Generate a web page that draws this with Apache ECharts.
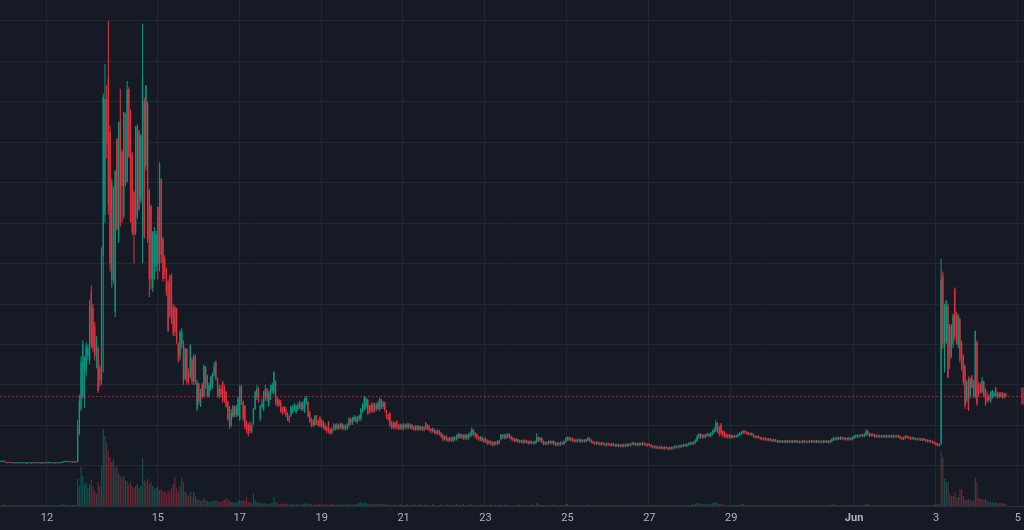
<!DOCTYPE html>
<html><head><meta charset="utf-8">
<script src="https://cdn.jsdelivr.net/npm/echarts@6/dist/echarts.min.js"></script>
<style>html,body{margin:0;padding:0;background:#161a25;}#c{width:1024px;height:530px;}</style>
</head><body><div id="c"></div>
<script>
// day labels on the time scale and the bar (hour) at which each day starts
const tickLabels = ['12','15','17','19','21','23','25','27','29','Jun','3','5'];
const tickBars = [27,92,140,188,236,284,332,380,428,500,548,596];
const barsOnScale = 600;
// hourly candles: [open, close, low, high] (price x 100)
const candles = [
[110,111,109,112],[111,112,110,113],[112,109,108,112],[109,108,107,109],[108,108,107,109],[108,109,107,109],[109,108,107,109],[108,108,107,109],[108,107,106,108],[107,108,106,108],
[108,108,107,109],[108,107,106,108],[107,108,107,109],[108,108,107,108],[108,107,106,108],[107,107,106,108],[107,108,106,108],[108,107,106,108],[107,107,106,108],[107,108,107,109],
[108,108,107,109],[108,107,106,108],[107,108,106,108],[108,107,106,108],[107,107,106,108],[107,108,107,109],[108,108,107,108],[108,107,106,108],[107,108,106,109],[108,108,107,109],
[108,107,106,108],[107,107,106,108],[107,108,106,108],[108,108,107,109],[108,107,106,108],[107,108,106,108],[108,109,107,110],[109,111,108,112],[111,110,109,112],[110,111,109,112],
[111,110,109,111],[110,110,109,111],[110,109,108,110],[109,110,108,111],[110,109,108,110],[109,190,108,212],[180,260,175,275],[240,356,235,370],[272,400,265,410],[330,363,243,370],
[335,395,320,405],[370,392,360,400],[360,495,350,510],[530,400,390,545],[490,390,380,500],[445,370,360,455],[380,410,340,420],[390,285,280,395],[340,310,295,350],[310,620,300,640],
[620,1011,330,1020],[720,1006,700,1093],[1006,900,860,1040],[1060,745,720,1199],[925,600,580,940],[560,800,540,810],[784,560,550,790],[480,828,467,830],[907,685,680,910],[660,949,650,950],
[950,702,690,1031],[875,791,700,880],[717,974,710,975],[969,796,790,972],[803,1030,800,1051],[1031,865,860,1035],[977,702,700,980],[870,677,670,875],[776,672,600,780],[680,937,670,940],
[717,939,710,945],[927,734,730,930],[759,915,750,920],[740,1060,600,1192],[1000,665,660,1010],[841,1040,830,1041],[994,660,650,1000],[779,560,517,785],[742,560,536,745],[540,677,529,680],
[600,670,560,690],[590,672,580,680],[739,600,560,740],[600,845,580,850],[808,620,600,810],[660,561,555,665],[611,580,561,620],[586,529,520,590],[554,433,430,560],[569,470,465,572],
[569,457,450,575],[492,425,420,500],[490,430,420,495],[487,408,400,490],[400,363,355,405],[370,430,360,435],[400,430,390,440],[405,307,300,410],[314,388,310,392],[388,307,300,390],
[330,307,300,340],[319,396,315,400],[363,307,300,368],[307,371,300,375],[371,307,300,375],[240,307,235,312],[302,257,250,305],[250,282,245,290],[300,270,265,305],[272,346,268,350],
[344,297,290,346],[321,272,268,325],[272,300,268,305],[289,319,285,322],[300,326,290,330],[326,345,320,356],[356,314,310,360],[314,272,268,318],[272,290,265,300],[290,275,268,300],
[306,260,255,310],[290,260,255,300],[282,247,243,285],[257,215,210,260],[245,198,190,248],[200,230,195,240],[222,247,218,250],[245,225,220,248],[225,245,220,250],[225,265,222,270],
[215,295,210,300],[295,255,250,300],[257,215,210,260],[247,195,190,250],[208,185,180,212],[203,178,172,206],[200,185,180,210],[185,200,180,205],[203,240,200,242],[240,282,238,285],
[270,290,262,300],[290,257,255,295],[215,247,210,250],[245,255,240,265],[240,282,235,285],[270,290,260,300],[290,265,258,292],[250,280,245,285],[270,290,262,300],[285,300,278,305],
[280,330,275,334],[307,257,250,310],[265,250,245,270],[262,250,245,265],[255,235,230,262],[240,230,225,245],[245,232,228,247],[240,225,220,245],[228,215,210,232],[222,210,205,225],
[225,245,220,248],[232,245,228,250],[240,250,235,255],[232,247,228,250],[240,250,235,255],[245,255,240,260],[255,240,235,258],[240,255,235,260],[235,265,230,268],[255,268,250,272],
[257,222,218,260],[232,208,205,235],[215,200,195,218],[210,200,195,215],[200,222,198,225],[222,205,200,225],[210,200,196,213],[220,198,195,222],[198,210,195,215],[208,195,190,212],
[200,190,186,205],[195,185,180,198],[207,185,180,210],[190,180,175,193],[182,190,178,195],[190,200,186,205],[200,190,186,203],[192,200,188,205],[200,193,188,203],[193,203,190,206],
[203,192,188,206],[192,198,188,202],[198,190,186,202],[192,200,188,205],[200,215,195,220],[215,205,200,218],[205,215,200,220],[212,220,208,225],[220,210,205,223],[208,218,204,222],
[215,222,210,226],[215,240,210,242],[235,250,230,255],[240,270,235,272],[245,265,240,268],[262,230,225,265],[245,232,228,250],[250,235,230,255],[252,235,230,255],[235,250,232,255],
[250,240,235,255],[240,255,238,260],[240,265,235,268],[262,245,240,265],[245,255,240,260],[255,238,232,258],[235,220,215,238],[225,215,210,228],[230,200,195,232],[205,195,190,210],
[195,205,190,210],[205,195,190,208],[210,195,190,212],[200,192,188,203],[192,200,188,204],[200,192,188,203],[192,200,188,205],[200,195,190,203],[195,202,190,206],[202,195,190,205],
[195,200,190,204],[200,193,188,203],[195,190,186,198],[190,197,186,200],[197,190,186,200],[190,196,186,200],[196,190,186,198],[190,195,186,198],[195,188,184,198],[205,192,188,208],
[192,198,188,203],[198,188,184,200],[190,185,180,193],[185,190,182,194],[190,182,178,192],[185,180,176,188],[180,186,176,190],[186,178,174,188],[180,172,168,183],[175,165,160,178],
[165,172,162,175],[172,165,160,175],[168,162,158,170],[162,168,158,172],[168,162,158,170],[162,170,158,173],[170,165,160,172],[165,172,162,176],[170,178,166,180],[178,170,166,180],
[170,175,166,178],[175,168,164,178],[168,175,164,178],[175,168,164,178],[168,176,164,180],[174,180,170,184],[175,190,172,195],[188,178,174,190],[180,172,168,183],[178,168,164,180],
[170,165,160,173],[165,170,160,173],[170,162,158,172],[165,160,156,168],[168,160,156,170],[162,155,150,165],[155,160,152,163],[160,155,150,162],[158,152,148,160],[152,158,148,160],
[158,153,150,160],[153,160,150,162],[160,155,152,163],[165,176,162,178],[170,175,166,178],[175,168,165,178],[168,174,165,180],[172,178,168,180],[178,170,166,180],[172,165,162,174],
[168,163,160,170],[165,160,158,168],[160,165,158,168],[165,160,156,166],[162,158,155,164],[158,162,155,164],[162,157,154,164],[157,162,154,165],[162,158,155,164],[160,155,152,162],
[155,160,152,162],[160,156,153,162],[158,155,152,160],[155,160,152,162],[158,170,155,180],[170,162,158,172],[162,168,158,170],[168,158,154,170],[160,154,150,162],[154,158,150,160],
[158,155,150,160],[155,160,152,162],[160,156,152,162],[156,160,152,162],[160,154,150,162],[156,152,148,158],[152,156,148,158],[156,152,148,158],[152,157,149,160],[157,153,150,159],
[153,160,150,162],[160,166,156,170],[162,170,160,172],[170,163,160,172],[163,168,160,170],[168,162,158,170],[164,160,157,166],[160,164,157,166],[164,160,157,166],[160,164,157,167],
[164,160,156,166],[160,163,157,165],[163,160,157,165],[160,164,157,166],[163,168,160,172],[168,162,158,170],[163,158,155,165],[160,156,153,162],[157,154,150,159],[154,158,151,160],
[158,155,151,160],[156,152,149,158],[152,156,149,158],[156,153,150,158],[154,151,148,156],[151,155,148,157],[155,152,149,157],[153,150,147,155],[150,154,147,156],[154,151,148,156],
[152,149,146,154],[149,152,146,154],[152,148,145,154],[148,151,145,153],[151,148,145,153],[148,152,145,154],[152,149,146,154],[149,153,146,155],[153,150,147,155],[150,154,147,156],
[153,156,150,158],[156,152,149,158],[152,155,149,157],[155,151,148,157],[151,155,148,157],[155,152,149,157],[152,156,149,158],[156,152,149,158],[153,150,147,155],[150,153,147,155],
[153,150,147,155],[151,147,144,153],[148,145,142,150],[145,148,142,150],[148,144,141,150],[146,143,140,148],[143,147,140,149],[147,143,140,149],[145,142,139,147],[142,146,139,148],
[146,143,140,148],[144,141,138,146],[141,145,138,147],[145,142,139,147],[142,146,139,148],[145,148,142,150],[148,145,142,150],[145,148,142,150],[147,150,144,152],[150,147,144,152],
[149,152,146,154],[152,149,146,154],[149,153,146,155],[152,155,149,157],[154,157,151,159],[157,154,151,159],[154,158,151,160],[157,162,154,165],[160,172,158,176],[170,178,166,180],
[178,170,166,180],[170,175,166,178],[175,170,167,178],[170,176,167,178],[175,178,172,181],[178,173,170,180],[173,180,170,183],[178,185,175,188],[183,190,180,195],[185,205,183,213],
[205,185,180,207],[195,178,172,198],[200,180,175,205],[185,175,170,188],[183,172,168,185],[178,172,168,180],[175,170,166,178],[170,175,166,178],[175,170,167,177],[170,174,167,176],
[174,171,168,176],[171,174,168,176],[173,177,170,179],[176,180,173,183],[178,183,176,186],[181,185,178,188],[185,182,178,188],[183,180,177,186],[181,177,174,183],[177,180,174,182],
[180,176,173,182],[177,172,169,179],[173,170,167,175],[170,173,167,175],[173,169,166,175],[170,167,164,172],[168,165,162,170],[165,168,162,170],[168,164,161,170],[166,163,160,168],
[163,166,160,168],[166,163,160,168],[164,161,158,166],[161,164,158,166],[164,161,158,166],[162,159,156,164],[159,161,156,163],[161,159,156,163],[159,161,156,163],[161,158,155,163],
[158,161,155,163],[161,159,156,163],[159,161,156,163],[161,158,155,163],[158,161,155,163],[161,159,156,163],[159,161,156,163],[161,158,155,163],[158,160,155,162],[160,158,155,162],
[158,161,155,163],[161,158,155,163],[158,160,155,162],[160,158,155,162],[158,161,155,163],[161,159,156,163],[159,161,156,163],[161,158,155,163],[158,161,155,163],[161,158,155,163],
[158,160,155,162],[160,158,155,162],[158,161,155,163],[161,159,156,163],[159,161,156,163],[161,158,155,163],[158,161,155,164],[160,165,157,168],[164,168,161,172],[168,165,162,170],
[165,169,162,172],[169,166,163,171],[166,170,163,172],[170,167,164,172],[168,165,162,170],[165,168,162,170],[168,165,162,170],[165,168,162,170],[168,165,162,170],[165,169,162,172],
[168,173,165,175],[172,175,169,177],[175,172,169,177],[172,175,169,177],[174,176,171,178],[176,173,170,178],[173,177,170,180],[176,185,173,190],[185,178,174,188],[180,174,170,182],
[174,178,171,180],[178,174,171,180],[176,172,169,178],[172,175,169,177],[175,172,169,177],[172,174,169,176],[174,172,169,176],[172,174,169,176],[174,171,168,176],[171,174,168,176],
[174,172,169,176],[172,174,169,176],[174,171,168,176],[171,174,168,176],[174,172,169,176],[172,174,169,176],[174,171,168,176],[172,168,165,174],[169,166,163,171],[166,169,163,171],
[168,173,165,175],[173,170,167,175],[171,168,165,173],[169,167,164,171],[167,169,164,171],[169,166,163,171],[167,165,162,169],[165,167,162,169],[167,165,162,169],[166,164,161,168],
[164,166,161,168],[166,163,160,168],[164,162,159,166],[163,160,157,165],[160,162,157,164],[162,159,156,164],[160,157,154,162],[158,155,152,160],[156,152,149,158],[153,150,147,155],
[150,153,147,155],[155,560,150,611],[569,400,388,580],[339,494,330,500],[405,507,400,510],[494,319,315,500],[445,363,339,450],[371,445,365,450],[400,470,390,475],[536,420,410,540],
[474,405,400,480],[396,470,390,475],[462,363,355,465],[405,339,335,410],[371,307,300,375],[346,247,240,350],[260,307,255,310],[314,240,235,320],[272,314,265,318],[321,294,290,324],
[310,272,268,312],[270,433,265,433],[405,252,248,410],[300,275,270,307],[300,282,278,305],[282,310,278,319],[307,272,268,310],[289,252,248,292],[270,260,255,284],[272,262,258,276],
[260,282,255,284],[270,285,265,288],[272,280,268,284],[292,272,268,295],[280,270,266,283],[270,278,266,282],[278,272,268,282],[280,270,265,282],[270,276,266,280],[277,272,268,280]
];
// hourly volume (thousands)
const volumes = [
1,1,2,1,1,1,1,1,1,1,
1,1,1,1,1,1,1,1,1,1,
1,1,1,1,1,1,1,1,1,1,
1,1,1,1,1,1,2,2,1,1,
1,1,1,1,1,27,20,39,30,22,
24,18,22,26,20,15,12,24,20,40,
77,70,63,55,49,44,47,38,40,33,
30,28,30,26,25,22,24,20,18,20,
22,18,20,48,26,24,27,22,24,20,
17,18,19,16,17,14,15,12,16,14,
18,22,29,18,14,20,28,24,14,12,
10,14,9,14,10,7,6,5,6,8,
6,5,4,4,5,5,6,5,4,4,
5,6,8,6,5,4,4,3,4,5,
6,5,6,5,9,4,4,3,13,6,
4,3,3,3,2,3,2,2,3,3,
9,4,3,2,2,3,2,2,2,2,
2,2,1,2,2,1,2,2,2,3,
2,2,2,1,2,1,2,2,1,2,
1,2,1,2,2,1,1,2,1,2,
1,2,1,2,2,2,1,2,2,2,
3,4,3,4,3,2,2,2,2,2,
2,2,2,2,2,2,1,2,1,1,
1,2,1,1,2,1,1,1,2,1,
1,1,2,1,1,1,2,1,1,2,
1,1,1,2,1,1,1,1,2,1,
1,1,2,1,1,1,1,2,1,1,
1,2,1,1,1,2,2,1,1,1,
1,1,2,1,1,1,1,2,1,1,
1,1,1,2,1,1,2,1,1,1,
1,1,1,1,2,1,1,1,1,1,
1,2,1,1,3,2,1,1,1,1,
1,1,1,2,1,1,1,1,1,1,
1,2,2,1,1,1,1,1,1,1,
1,1,1,1,2,1,1,1,1,1,
1,1,1,1,1,1,1,1,1,1,
1,1,1,1,1,1,1,1,1,1,
1,1,1,1,1,1,1,1,1,1,
1,1,1,1,1,1,1,1,1,1,
1,1,1,1,1,1,1,1,1,1,
1,1,1,1,1,2,1,2,3,3,
2,2,2,2,2,2,2,3,3,4,
3,2,2,2,1,1,1,1,1,1,
1,1,1,1,2,2,1,1,1,1,
1,1,1,1,1,1,1,1,1,1,
1,1,1,1,1,1,1,1,1,1,
1,1,1,1,1,1,1,1,1,1,
1,1,1,1,1,1,1,1,1,1,
1,1,1,1,1,1,1,2,2,1,
1,1,1,1,1,1,1,1,1,1,
1,1,1,1,1,1,1,2,2,1,
1,1,1,1,1,1,1,1,1,1,
1,1,1,1,1,1,1,1,1,1,
1,1,1,1,1,1,1,1,1,1,
1,1,1,1,1,1,1,1,2,2,
2,55,49,27,24,24,12,10,10,14,
9,9,17,17,10,7,6,7,5,6,
5,28,24,8,7,7,6,7,5,4,
4,4,3,4,3,3,3,3,2,2
];

const UP = '#089981', DOWN = '#e0333f';
const VOL_UP = 'rgba(8,153,129,0.45)', VOL_DOWN = 'rgba(242,54,69,0.4)';
const labelAt = new Map(tickBars.map((b, k) => [b, tickLabels[k]]));
const cats = Array.from({length: barsOnScale}, (_, i) => String(i));
const lastClose = candles[candles.length - 1][1];
const isUp = (c) => c[1] >= c[0];
// [barIndex, open, close, low, high]
const candleRows = candles.map((c, i) => [i, c[0], c[1], c[2], c[3]]);
const volData = volumes.map((v, i) => ({
  value: v,
  itemStyle: {color: isUp(candles[i]) ? VOL_UP : VOL_DOWN}
}));

function renderCandle(params, api) {
  const i = api.value(0);
  const o = api.value(1), c = api.value(2), lo = api.value(3), hi = api.value(4);
  const pHi = api.coord([i, hi]);
  const pLo = api.coord([i, lo]);
  const pO = api.coord([i, o]);
  const pC = api.coord([i, c]);
  const col = c >= o ? UP : DOWN;
  const wickW = 1.0, bodyW = 1.3;
  const wickH = Math.max(1, pLo[1] - pHi[1]);
  const bodyTop = Math.min(pO[1], pC[1]);
  const bodyH = Math.max(1, Math.abs(pO[1] - pC[1]));
  return {
    type: 'group',
    children: [
      {type: 'rect', shape: {x: pHi[0] - wickW / 2, y: pHi[1], width: wickW, height: wickH}, style: {fill: col}},
      {type: 'rect', shape: {x: pHi[0] - bodyW / 2, y: bodyTop, width: bodyW, height: bodyH}, style: {fill: col}}
    ]
  };
}

const chart = echarts.init(document.getElementById('c'), null, {renderer: 'canvas'});
chart.setOption({
  backgroundColor: '#161a25',
  animation: false,
  grid: [
    {left: 0, right: 0, top: 0, bottom: 24},
    {left: 0, right: 0, bottom: 24, height: 100}
  ],
  xAxis: [
    {
      type: 'category', gridIndex: 0, data: cats, boundaryGap: true,
      axisLine: {show: true, lineStyle: {color: '#2a2e39'}},
      axisTick: {show: false},
      axisLabel: {
        interval: (i) => labelAt.has(i),
        formatter: (v) => { const t = labelAt.get(+v) || ''; return t === 'Jun' ? '{b|Jun}' : t; },
        color: '#b2b5be', fontSize: 11, margin: 7, fontFamily: 'Roboto, sans-serif',
        rich: {b: {fontWeight: 'bold', color: '#b2b5be', fontSize: 11, fontFamily: 'Roboto, sans-serif'}}
      },
      splitLine: {show: true, interval: (i) => labelAt.has(i), lineStyle: {color: '#242733', width: 1}}
    },
    {type: 'category', gridIndex: 1, data: cats, boundaryGap: true, show: false}
  ],
  yAxis: [
    {
      type: 'value', gridIndex: 0, min: 0, max: 1251, interval: 100,
      axisLabel: {show: false}, axisLine: {show: false}, axisTick: {show: false},
      splitLine: {show: true, showMinLine: false, showMaxLine: false, lineStyle: {color: '#242733', width: 1}}
    },
    {type: 'value', gridIndex: 1, min: 0, max: 100, show: false, splitLine: {show: false}}
  ],
  series: [
    {
      type: 'bar', xAxisIndex: 1, yAxisIndex: 1, data: volData,
      barWidth: '70%', z: 1, silent: true
    },
    {
      type: 'custom', xAxisIndex: 0, yAxisIndex: 0, data: candleRows,
      encode: {x: 0, y: [1, 2, 3, 4]},
      renderItem: renderCandle, z: 3, silent: true, clip: false,
      markLine: {
        silent: true, symbol: ['none', 'none'],
        data: [{yAxis: lastClose}],
        lineStyle: {color: '#f23645', type: [2, 2], width: 1, opacity: 0.55},
        label: {
          show: true, position: 'end', distance: -3,
          formatter: () => (lastClose / 100).toFixed(2),
          backgroundColor: '#f23645', color: '#ffffff', padding: [3, 4], fontSize: 11
        }
      }
    }
  ]
});
</script>
</body></html>
